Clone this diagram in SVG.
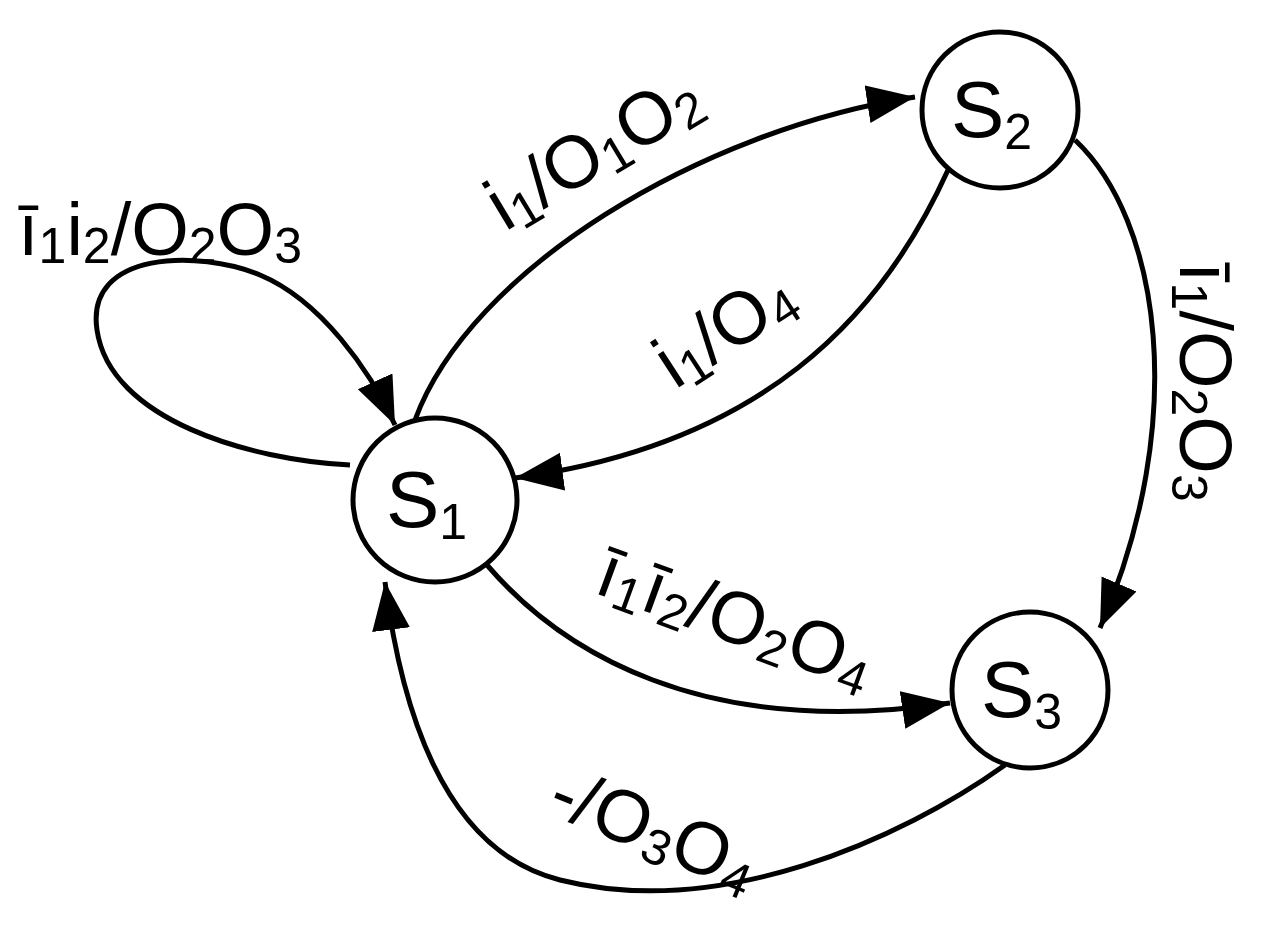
<svg xmlns="http://www.w3.org/2000/svg" width="1276" height="925" viewBox="0 0 1276 925">
<style>
.n{fill:#fff;stroke:#000;stroke-width:5}
.e{fill:none;stroke:#000;stroke-width:5}
text{font-family:"Liberation Sans",Arial,sans-serif;fill:#000}
.l{font-size:74px}
.s{font-size:50px}
.S{font-size:80px}
</style>
<defs>
<marker id="a" markerUnits="userSpaceOnUse" markerWidth="50" markerHeight="40" refX="48" refY="19" orient="auto">
<path d="M0,0 L48,19 L0,38 Z" fill="#000"/>
</marker>
</defs>
<rect width="1276" height="925" fill="#fff"/>
<g id="connectors">
<path class="e" marker-end="url(#a)" d="M415,420 C470,270 700,130 915,97"/>
<path class="e" marker-end="url(#a)" d="M948,170 C880,320 760,445 515,478"/>
<path class="e" marker-end="url(#a)" d="M350,465 C250,460 110,420 97,330 C85,250 200,250 260,275 C320,300 370,370 395,425"/>
<path class="e" marker-end="url(#a)" d="M1075,140 C1160,220 1190,420 1100,628"/>
<path class="e" marker-end="url(#a)" d="M487,565 C560,650 700,740 950,703"/>
<path class="e" marker-end="url(#a)" d="M1005,765 C900,840 720,920 560,880 C440,850 400,700 385,582"/>
</g>
<g id="S1"><circle class="n" cx="435" cy="500" r="82"/><text class="S" x="386" y="527">S<tspan class="s" dy="12">1</tspan></text></g>
<g id="S2"><circle class="n" cx="1000" cy="110" r="78"/><text class="S" x="951" y="137">S<tspan class="s" dy="12">2</tspan></text></g>
<g id="S3"><circle class="n" cx="1030" cy="690" r="78"/><text class="S" x="981" y="717">S<tspan class="s" dy="12">3</tspan></text></g>
<g id="labels">
<text class="l" x="18" y="255">ī<tspan class="s" dy="8">1</tspan><tspan dy="-8">i</tspan><tspan class="s" dy="8">2</tspan><tspan dy="-8">/O</tspan><tspan class="s" dy="8">2</tspan><tspan dy="-8">O</tspan><tspan class="s" dy="8">3</tspan></text>
<text class="l" transform="translate(505,232) rotate(-31)">i<tspan class="s" dy="8">1</tspan><tspan dy="-8">/O</tspan><tspan class="s" dy="8">1</tspan><tspan dy="-8">O</tspan><tspan class="s" dy="8">2</tspan></text>
<text class="l" transform="translate(675,390) rotate(-33)">i<tspan class="s" dy="8">1</tspan><tspan dy="-8">/O</tspan><tspan class="s" dy="8">4</tspan></text>
<text class="l" transform="translate(1180,262) rotate(90)">ī<tspan class="s" dy="8">1</tspan><tspan dy="-8">/O</tspan><tspan class="s" dy="8">2</tspan><tspan dy="-8">O</tspan><tspan class="s" dy="8">3</tspan></text>
<text class="l" transform="translate(592,592) rotate(20)">ī<tspan class="s" dy="8">1</tspan><tspan dy="-8">ī</tspan><tspan class="s" dy="8">2</tspan><tspan dy="-8">/O</tspan><tspan class="s" dy="8">2</tspan><tspan dy="-8">O</tspan><tspan class="s" dy="8">4</tspan></text>
<text class="l" transform="translate(545,812) rotate(22)">-/O<tspan class="s" dy="8">3</tspan><tspan dy="-8">O</tspan><tspan class="s" dy="8">4</tspan></text>
</g>
</svg>
